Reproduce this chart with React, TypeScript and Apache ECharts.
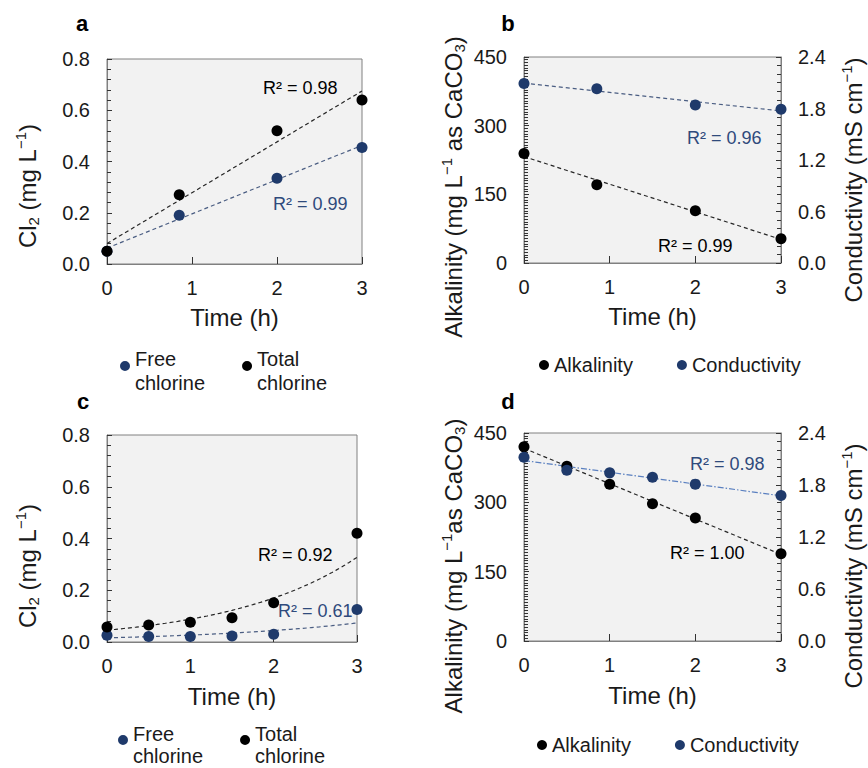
import React, { useEffect, useRef } from "react";
import * as echarts from "echarts";

// ---- panel a: chlorine, first run ----
const timeA = [0, 0.85, 2, 3];
const freeA = [0.05, 0.19, 0.335, 0.455];
const totalA = [0.05, 0.27, 0.52, 0.64];

// ---- panel b: alkalinity / conductivity, first run ----
const timeB = [0, 0.85, 2, 3];
const alkB = [239, 171, 114, 53];
const condB = [2.09, 2.03, 1.84, 1.79];

// ---- panel c: chlorine, second run ----
const timeC = [0, 0.5, 1, 1.5, 2, 3];
const freeC = [0.026, 0.021, 0.021, 0.023, 0.03, 0.126];
const totalC = [0.058, 0.066, 0.076, 0.094, 0.152, 0.42];

// ---- panel d: alkalinity / conductivity, second run ----
const timeD = [0, 0.5, 1, 1.5, 2, 3];
const alkD = [420, 378, 339, 297, 266, 189];
const condD = [2.12, 1.97, 1.94, 1.89, 1.81, 1.68];

// fit statistics shown next to the trendlines
const r2A = ["R² = 0.98", "R² = 0.99"];
const r2B = ["R² = 0.96", "R² = 0.99"];
const r2C = ["R² = 0.92", "R² = 0.61"];
const r2D = ["R² = 0.98", "R² = 1.00"];

const FONT = '"Liberation Sans", Arial, Helvetica, sans-serif';
const NAVY = "#1f3a6b";
const BLACK = "#000000";
const TEXT = "#1a1a1a";
const BLUE_TXT = "#2f4a7c";
const FIT_BLUE = "#4a5d82";
const TICK = "#333333";

// least squares y = a + b x
function linFit(xs: number[], ys: number[]) {
  const n = xs.length;
  const mx = xs.reduce((s, v) => s + v, 0) / n;
  const my = ys.reduce((s, v) => s + v, 0) / n;
  let sxy = 0;
  let sxx = 0;
  for (let i = 0; i < n; i++) {
    sxy += (xs[i] - mx) * (ys[i] - my);
    sxx += (xs[i] - mx) * (xs[i] - mx);
  }
  const b = sxy / sxx;
  return { a: my - b * mx, b };
}

function linLine(xs: number[], ys: number[]) {
  const { a, b } = linFit(xs, ys);
  const x0 = xs[0];
  const x1 = xs[xs.length - 1];
  return [
    [x0, a + b * x0],
    [x1, a + b * x1],
  ];
}

// exponential trendline y = A e^(b x), fitted on ln(y)
function expLine(xs: number[], ys: number[]) {
  const { a, b } = linFit(xs, ys.map((v) => Math.log(v)));
  const x0 = xs[0];
  const x1 = xs[xs.length - 1];
  const pts: number[][] = [];
  const steps = 60;
  for (let i = 0; i <= steps; i++) {
    const x = x0 + ((x1 - x0) * i) / steps;
    pts.push([x, Math.exp(a + b * x)]);
  }
  return pts;
}

const pairs = (xs: number[], ys: number[]) => xs.map((x, i) => [x, ys[i]]);

const grids = [
  { left: 107, top: 59, width: 255, height: 205 },
  { left: 524, top: 57, width: 257, height: 206 },
  { left: 107, top: 435, width: 250, height: 207 },
  { left: 524, top: 433, width: 257, height: 208 },
].map((g) => ({
  ...g,
  show: true,
  backgroundColor: "#f2f2f2",
  borderColor: "#808080",
  borderWidth: 1,
}));

const axisLabel = (extra: any = {}) => ({
  color: TEXT,
  fontSize: 20,
  fontFamily: FONT,
  ...extra,
});

const makeX = (gridIndex: number, nameGap: number) => ({
  type: "value",
  gridIndex,
  z: 2,
  min: 0,
  max: 3,
  interval: 1,
  name: "Time (h)",
  nameLocation: "middle",
  nameGap,
  nameTextStyle: { fontSize: 24, fontFamily: FONT, color: TEXT },
  axisLine: { show: true, lineStyle: { color: "#808080", width: 1 } },
  axisTick: { show: true, inside: true, length: 7, lineStyle: { color: TICK, width: 1 } },
  axisLabel: axisLabel({ margin: 14 }),
  splitLine: { show: false },
});

const makeY = (
  gridIndex: number,
  max: number,
  interval: number,
  minorSplit: number,
  position: "left" | "right",
  digits: number
) => ({
  type: "value",
  gridIndex,
  z: 2,
  position,
  min: 0,
  max,
  interval,
  axisLine: { show: true, lineStyle: { color: "#808080", width: 1 } },
  axisTick: { show: true, inside: true, length: 5, lineStyle: { color: TICK, width: 1 } },
  minorTick: { show: true, splitNumber: minorSplit, length: 4, lineStyle: { color: TICK, width: 1 } },
  axisLabel: axisLabel({
    margin: 17,
    formatter: (v: number) => v.toFixed(digits),
  }),
  splitLine: { show: false },
});

const fitSeries = (
  name: string,
  xi: number,
  yi: number,
  data: number[][],
  color: string,
  type: any = [4, 3]
) => ({
  name,
  type: "line",
  xAxisIndex: xi,
  yAxisIndex: yi,
  data,
  showSymbol: false,
  symbol: "none",
  silent: true,
  z: 3,
  lineStyle: { color, width: 1.2, type },
});

const dots = (name: string, xi: number, yi: number, data: number[][], color: string) => ({
  name,
  type: "scatter",
  xAxisIndex: xi,
  yAxisIndex: yi,
  data,
  symbol: "circle",
  symbolSize: 11,
  itemStyle: { color, opacity: 1 },
  z: 4,
});

// circle sitting in the upper half of a 10x20 box, so it lines up with the first text line
const UPPER_DOT = "path://M5,0A5,5 0 1 1 5,10A5,5 0 1 1 5,0ZM4.9,20L5.1,20L5,20Z";

const legendBase = {
  orient: "horizontal",
  icon: "circle",
  itemWidth: 10,
  itemHeight: 10,
  padding: 0,
  selectedMode: false,
  textStyle: { fontSize: 20, fontFamily: FONT, color: TEXT, lineHeight: 24 },
};

const rText = (x: number, y: number, text: string, fill: string) => ({
  type: "text",
  x,
  y,
  z: 1,
  style: { text, fill, fontSize: 18, fontFamily: FONT, align: "left", verticalAlign: "middle" },
});

const letter = (x: number, y: number, text: string) => ({
  type: "text",
  x,
  y,
  style: {
    text,
    fill: BLACK,
    fontSize: 22,
    fontWeight: "bold",
    fontFamily: FONT,
    align: "center",
    verticalAlign: "middle",
  },
});

const richTokens = {
  sup: { fontSize: 15, fontFamily: FONT, fill: TEXT, verticalAlign: "top", lineHeight: 15 },
  sub: { fontSize: 15, fontFamily: FONT, fill: TEXT, verticalAlign: "bottom", lineHeight: 15 },
};

const vTitle = (x: number, y: number, text: string) => ({
  type: "text",
  x,
  y,
  rotation: Math.PI / 2,
  style: {
    text,
    fill: TEXT,
    fontSize: 24,
    fontFamily: FONT,
    lineHeight: 28,
    align: "center",
    verticalAlign: "middle",
    rich: richTokens,
  },
});

function buildOption() {
  return {
    animation: false,
    textStyle: { fontFamily: FONT },
    grid: grids,
    xAxis: [makeX(0, 41), makeX(1, 41), makeX(2, 42), makeX(3, 42)],
    yAxis: [
      makeY(0, 0.8, 0.2, 5, "left", 1),
      makeY(1, 450, 150, 25, "left", 0),
      makeY(1, 2.4, 0.6, 6, "right", 1),
      makeY(2, 0.8, 0.2, 5, "left", 1),
      makeY(3, 450, 150, 25, "left", 0),
      makeY(3, 2.4, 0.6, 6, "right", 1),
    ],
    legend: [
      {
        ...legendBase,
        icon: UPPER_DOT,
        itemHeight: 20,
        left: 120,
        top: 347,
        itemGap: 37,
        data: ["Free chlorine", "Total chlorine"],
        formatter: (n: string) => n.replace(" ", "\n"),
      },
      {
        ...legendBase,
        left: 539,
        top: 353,
        itemGap: 44,
        data: ["Alkalinity", "Conductivity"],
      },
      {
        ...legendBase,
        icon: UPPER_DOT,
        itemHeight: 20,
        textStyle: { ...legendBase.textStyle, lineHeight: 22 },
        left: 118,
        top: 723,
        itemGap: 37,
        data: ["Free chlorine", "Total chlorine"],
        formatter: (n: string) => n.replace(" ", "\n"),
      },
      {
        ...legendBase,
        left: 537,
        top: 733,
        itemGap: 44,
        data: ["Alkalinity", "Conductivity"],
      },
    ],
    series: [
      // a
      fitSeries("fit free a", 0, 0, linLine(timeA, freeA), FIT_BLUE),
      fitSeries("fit total a", 0, 0, linLine(timeA, totalA), "#262626"),
      dots("Free chlorine", 0, 0, pairs(timeA, freeA), NAVY),
      dots("Total chlorine", 0, 0, pairs(timeA, totalA), BLACK),
      // b
      fitSeries("fit alk b", 1, 1, linLine(timeB, alkB), "#262626"),
      fitSeries("fit cond b", 1, 2, linLine(timeB, condB), FIT_BLUE),
      dots("Alkalinity", 1, 1, pairs(timeB, alkB), BLACK),
      dots("Conductivity", 1, 2, pairs(timeB, condB), NAVY),
      // c
      fitSeries("fit free c", 2, 3, expLine(timeC, freeC), FIT_BLUE),
      fitSeries("fit total c", 2, 3, expLine(timeC, totalC), "#262626"),
      dots("Free chlorine", 2, 3, pairs(timeC, freeC), NAVY),
      dots("Total chlorine", 2, 3, pairs(timeC, totalC), BLACK),
      // d
      fitSeries("fit alk d", 3, 4, linLine(timeD, alkD), "#262626"),
      fitSeries("fit cond d", 3, 5, linLine(timeD, condD), "#5b80c0", [6, 2, 1.5, 2]),
      dots("Alkalinity", 3, 4, pairs(timeD, alkD), BLACK),
      dots("Conductivity", 3, 5, pairs(timeD, condD), NAVY),
    ],
    graphic: [
      letter(82, 23, "a"),
      letter(508, 23, "b"),
      letter(83, 401, "c"),
      letter(508, 401, "d"),
      rText(263, 88, r2A[0], BLACK),
      rText(273, 204, r2A[1], BLUE_TXT),
      rText(687, 138, r2B[0], BLUE_TXT),
      rText(658, 246, r2B[1], BLACK),
      rText(258, 555, r2C[0], BLACK),
      rText(278, 611, r2C[1], BLUE_TXT),
      rText(690, 464, r2D[0], BLUE_TXT),
      rText(670, 553, r2D[1], BLACK),
      vTitle(27, 186, "Cl{sub|2} (mg L{sup|−1})"),
      vTitle(453, 187, "Alkalinity (mg L{sup|−1} as CaCO{sub|3})"),
      vTitle(853, 180, "Conductivity (mS cm{sup|−1})"),
      vTitle(27, 566, "Cl{sub|2} (mg L{sup|−1})"),
      vTitle(453, 566, "Alkalinity (mg L{sup|−1}as CaCO{sub|3})"),
      vTitle(853, 566, "Conductivity (mS cm{sup|−1})"),
    ],
  };
}

export default function App() {
  const ref = useRef<HTMLDivElement>(null);

  useEffect(() => {
    document.body.style.margin = "0";
    if (!ref.current) return;
    const chart = echarts.init(ref.current, null, { renderer: "svg" });
    chart.setOption(buildOption() as any);
    return () => {
      chart.dispose();
    };
  }, []);

  return <div ref={ref} style={{ width: 868, height: 768, background: "#ffffff" }} />;
}
